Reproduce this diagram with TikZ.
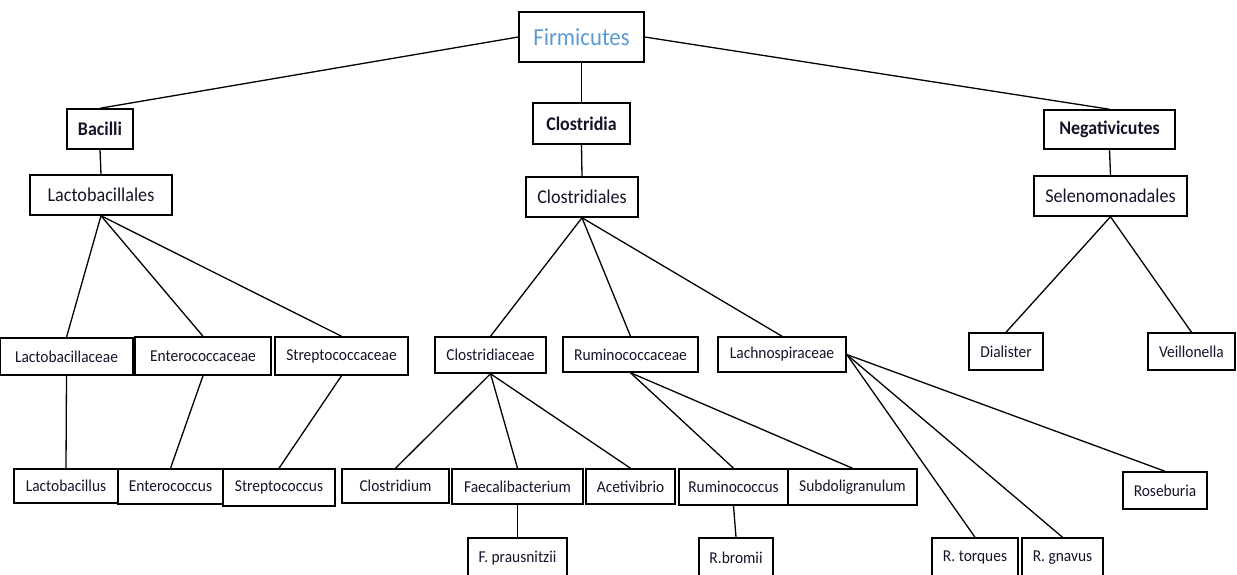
\documentclass[tikz,border=0pt]{standalone}
\usepackage{fontspec}
\setmainfont{Carlito}[FakeStretch=0.93]
\usepackage{tikz}
\definecolor{FirmBlue}{RGB}{91,155,213}
\definecolor{TaxText}{RGB}{20,20,40}

\begin{document}
\begin{tikzpicture}[x=1pt, y=-1pt,
    taxon/.style={draw, line width=1.5pt, inner sep=0pt, text=TaxText, font=\fontsize{16.6}{19}\selectfont},
    order/.style={taxon, font=\fontsize{19.5}{22}\selectfont},
    class/.style={taxon, font=\bfseries\fontsize{19.3}{22}\selectfont},
    link/.style={line width=1.3pt}]
    \useasboundingbox (0,0) rectangle (1237,574);
    % Phylum and classes
    \node[taxon, minimum width=125pt, minimum height=50pt, text=FirmBlue, font=\fontsize{24.5}{27}\selectfont] (firm) at (581.5,37) {Firmicutes};
    \node[class, minimum width=66pt, minimum height=40pt] (bac) at (100,129) {Bacilli};
    \node[class, minimum width=97pt, minimum height=41pt] (clos) at (581.5,123.5) {Clostridia};
    \node[class, minimum width=131pt, minimum height=39pt] (neg) at (1109.5,129.5) {Negativicutes};
    % Orders
    \node[order, minimum width=142pt, minimum height=40pt] (lacto) at (101,195) {Lactobacillales};
    \node[order, minimum width=112pt, minimum height=40pt] (closl) at (582,197) {Clostridiales};
    \node[order, minimum width=153pt, minimum height=40pt] (sel) at (1110.5,196) {Selenomonadales};
    % Families
    \node[taxon, minimum width=133pt, minimum height=37pt] (lacc) at (66.5,356.5) {Lactobacillaceae};
    \node[taxon, minimum width=136pt, minimum height=38pt] (ent) at (203,356) {Enterococcaceae};
    \node[taxon, minimum width=133pt, minimum height=38pt] (strc) at (341.5,356) {Streptococcaceae};
    \node[taxon, minimum width=111pt, minimum height=36pt] (cdc) at (490.5,355) {Clostridiaceae};
    \node[taxon, minimum width=135pt, minimum height=35pt] (rmc) at (630.5,354.5) {Ruminococcaceae};
    \node[taxon, minimum width=128pt, minimum height=35pt] (lac) at (782,354.5) {Lachnospiraceae};
    \node[taxon, minimum width=74pt, minimum height=37pt] (dia) at (1006,351.5) {Dialister};
    \node[taxon, minimum width=87pt, minimum height=37pt] (vei) at (1191.5,351.5) {Veillonella};
    % Genera
    \node[taxon, minimum width=104pt, minimum height=34pt] (lb) at (66,486) {Lactobacillus};
    \node[taxon, minimum width=105pt, minimum height=35pt] (ec) at (170.5,486.5) {Enterococcus};
    \node[taxon, minimum width=112pt, minimum height=37pt] (sc) at (279,487.5) {Streptococcus};
    \node[taxon, minimum width=107pt, minimum height=34pt] (cd) at (395.5,486) {Clostridium};
    \node[taxon, minimum width=131pt, minimum height=35pt] (fb) at (517.5,486.5) {Faecalibacterium};
    \node[taxon, minimum width=89pt, minimum height=35pt] (av) at (630.5,486.5) {Acetivibrio};
    \node[taxon, minimum width=109pt, minimum height=36pt] (rc) at (733.5,487) {Ruminococcus};
    \node[taxon, minimum width=129pt, minimum height=36pt] (sg) at (852.5,487) {Subdoligranulum};
    \node[taxon, minimum width=84pt, minimum height=37pt] (rb) at (1165,490.5) {Roseburia};
    % Species
    \node[taxon, minimum width=99pt, minimum height=40pt] (fp) at (517.5,558) {F. prausnitzii};
    \node[taxon, minimum width=74pt, minimum height=40pt] (rbr) at (736,558) {R.bromii};
    \node[taxon, minimum width=86pt, minimum height=40pt] (rt) at (975,558) {R. torques};
    \node[taxon, minimum width=81pt, minimum height=40pt] (rg) at (1062.5,558) {R. gnavus};
    % Draw links
    \draw[link] (firm.west) -- (bac.north);
    \draw[link] (firm.south) -- (clos.north);
    \draw[link] (firm.east) -- (neg.north);
    \draw[link] (bac.south) -- (lacto.north);
    \draw[link] (clos.south) -- (closl.north);
    \draw[link] (neg.south) -- (sel.north);
    \draw[link] (lacto.south) -- (lacc.north);
    \draw[link] (lacto.south) -- (ent.north);
    \draw[link] (lacto.south) -- (strc.north);
    \draw[link] (closl.south) -- (cdc.north);
    \draw[link] (closl.south) -- (rmc.north);
    \draw[link] (closl.south) -- (lac.north);
    \draw[link] (sel.south) -- (dia.north);
    \draw[link] (sel.south) -- (vei.north);
    \draw[link] (lacc.south) -- (lb.north);
    \draw[link] (ent.south) -- (ec.north);
    \draw[link] (strc.south) -- (sc.north);
    \draw[link] (cdc.south) -- (cd.north);
    \draw[link] (cdc.south) -- (fb.north);
    \draw[link] (cdc.south) -- (av.north);
    \draw[link] (rmc.south) -- (rc.north);
    \draw[link] (rmc.south) -- (sg.north);
    \draw[link] (lac.east) -- (rt.north);
    \draw[link] (lac.east) -- (rg.north);
    \draw[link] (lac.east) -- (rb.north);
    \draw[link] (fb.south) -- (fp.north);
    \draw[link] (rc.south) -- (rbr.north);
\end{tikzpicture}
\end{document}
